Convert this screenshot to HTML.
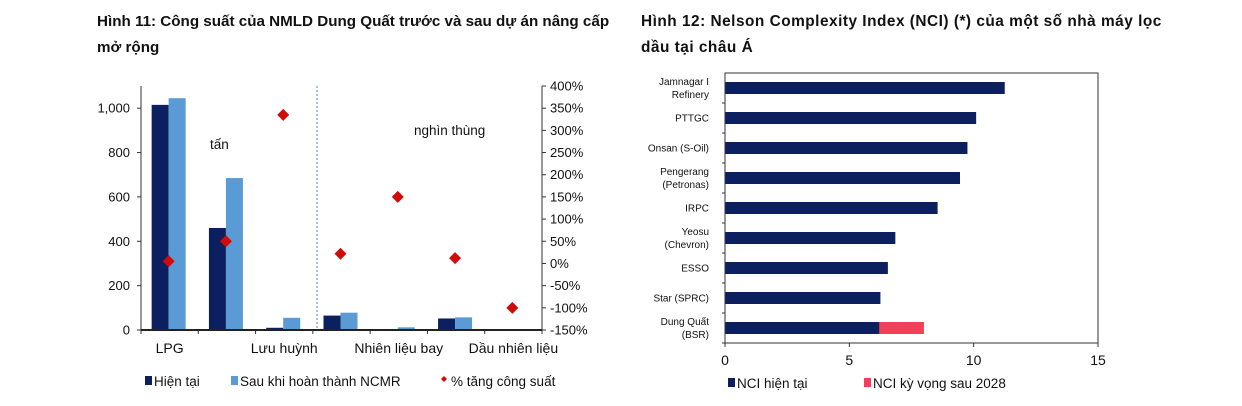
<!DOCTYPE html>
<html><head><meta charset="utf-8"><style>
body{margin:0;width:1242px;height:406px;background:#fff;overflow:hidden;font-family:"Liberation Sans",sans-serif}
.t{position:absolute;font-weight:bold;font-size:15.2px;color:#111;line-height:26px;white-space:nowrap}
svg{position:absolute;left:0;top:0}
</style></head><body>
<div class="t" style="left:97px;top:9px">Hình 11: Công suất của NMLD Dung Quất trước và sau dự án nâng cấp<br>mở rộng</div>
<div class="t" style="left:641px;top:9px;font-size:15.4px;letter-spacing:0.5px">Hình 12: Nelson Complexity Index (NCI) (*) của một số nhà máy lọc<br>dầu tại châu Á</div>
<svg width="1242" height="406" id="svg" font-family="Liberation Sans, sans-serif"></svg>
<script>
const cats=["LPG","","Lưu huỳnh","","Nhiên liệu bay","","Dầu nhiên liệu"];
const cur=[1015,460,10,65,3,52,3];
const after=[1045,685,55,78,12,57,4];
const pct=[5,50,335,22,150,12,-100];
const leftTicks=[0,200,400,600,800,1000];
const leftTickLabels=["0","200","400","600","800","1,000"];
const rightTicks=[-150,-100,-50,0,50,100,150,200,250,300,350,400];
const refs=["Jamnagar I|Refinery","PTTGC","Onsan (S-Oil)","Pengerang|(Petronas)","IRPC","Yeosu|(Chevron)","ESSO","Star (SPRC)","Dung Quất|(BSR)"];
const nci=[11.25,10.1,9.75,9.45,8.55,6.85,6.55,6.25,6.2];
const nci2028=[0,0,0,0,0,0,0,0,8.0];
const xTicks=[0,5,10,15];

const S=document.getElementById('svg');const NS="http://www.w3.org/2000/svg";
function el(t,a,txt){const e=document.createElementNS(NS,t);for(const k in a)e.setAttribute(k,a[k]);if(txt!==undefined)e.textContent=txt;S.appendChild(e);return e;}
const L={x0:141,x1:542,yb:330,yt:86};
const yL=v=>L.yb-(v/1100)*(L.yb-L.yt);
const yR=v=>L.yb-((v+150)/550)*(L.yb-L.yt);
const gw=(L.x1-L.x0)/cats.length;
let e;
e=el('line',{x1:317,y1:L.yt,x2:317,y2:L.yb,stroke:'#4a7fd0','stroke-dasharray':'2,2','stroke-width':1});

cats.forEach((c,i)=>{
 const gx=L.x0+i*gw, cx=gx+gw/2;
 e=el('rect',{x:cx-18,y:yL(cur[i]),width:17,height:L.yb-yL(cur[i]),fill:'#0c1f5e'});
 
 e=el('rect',{x:cx-1,y:yL(after[i]),width:17,height:L.yb-yL(after[i]),fill:'#5b9bd5'});
 
 const py=yR(pct[i]);
 e=el('path',{d:`M${cx-1} ${py-6}L${cx+5} ${py}L${cx-1} ${py+6}L${cx-7} ${py}Z`,fill:'#d10a0a'});
 
 if(c){e=el('text',{x:cx,y:353,'font-size':14,'text-anchor':'middle',fill:'#111'},c);
 }
});
for(let i=0;i<=cats.length;i++){e=el('line',{x1:L.x0+i*gw,y1:L.yb,x2:L.x0+i*gw,y2:L.yb+4,stroke:'#333'});
 }
e=el('line',{x1:L.x0,y1:L.yt,x2:L.x0,y2:L.yb,stroke:'#333'});
e=el('line',{x1:L.x1,y1:L.yt,x2:L.x1,y2:L.yb,stroke:'#333'});
e=el('line',{x1:L.x0,y1:L.yb,x2:L.x1,y2:L.yb,stroke:'#222','stroke-width':2});
leftTicks.forEach((v,i)=>{e=el('text',{x:L.x0-11,y:yL(v)+4.5,'font-size':13,'text-anchor':'end',fill:'#111'},leftTickLabels[i]);
 
 e=el('line',{x1:L.x0-4,y1:yL(v),x2:L.x0,y2:yL(v),stroke:'#333'});});
rightTicks.forEach(v=>{e=el('text',{x:L.x1+8,y:yR(v)+4.5,'font-size':13,fill:'#111'},v+'%');
 
 e=el('line',{x1:L.x1,y1:yR(v),x2:L.x1+4,y2:yR(v),stroke:'#333'});});
e=el('text',{x:210,y:149,'font-size':13.5,fill:'#111'},'tấn');
e=el('text',{x:414,y:135,'font-size':13.5,fill:'#111'},'nghìn thùng');
e=el('rect',{x:145,y:376,width:7,height:9,fill:'#0c1f5e'});
e=el('text',{x:154,y:386,'font-size':13.5,fill:'#111'},'Hiện tại');
e=el('rect',{x:231,y:376,width:7,height:9,fill:'#5b9bd5'});
e=el('text',{x:240,y:386,'font-size':13.5,fill:'#111'},'Sau khi hoàn thành NCMR');
e=el('path',{d:'M444 376L447 379L444 382L441 379Z',fill:'#d10a0a'});
e=el('text',{x:451,y:386,'font-size':13.5,fill:'#111'},'% tăng công suất');
const R={x0:725,x1:1098,yt:73,yb:343};
const xR=v=>R.x0+v/15*(R.x1-R.x0);
const rh=(R.yb-R.yt)/refs.length;
refs.forEach((r,i)=>{
 const cy=R.yt+rh*i+rh/2;
 if(nci2028[i]>0){e=el('rect',{x:xR(0),y:cy-6,width:xR(nci2028[i])-xR(0),height:12,fill:'#f0405a'});
  }
 e=el('rect',{x:xR(0),y:cy-6,width:xR(nci[i])-xR(0),height:12,fill:'#0c1f5e'});
 
 const parts=r.split('|');
 parts.forEach((p,j)=>{e=el('text',{x:709,y:cy+3.5+(j-(parts.length-1)/2)*13,'font-size':10,'text-anchor':'end',fill:'#111'},p);
  });
 e=el('line',{x1:R.x0-3,y1:R.yt+rh*(i+1),x2:R.x0,y2:R.yt+rh*(i+1),stroke:'#333'});
});
e=el('rect',{x:R.x0,y:R.yt,width:R.x1-R.x0,height:R.yb-R.yt,fill:'none',stroke:'#333'});
xTicks.forEach(v=>{e=el('text',{x:xR(v),y:365,'font-size':14,'text-anchor':'middle',fill:'#111'},String(v));
 
 e=el('line',{x1:xR(v),y1:R.yb,x2:xR(v),y2:R.yb+4,stroke:'#333'});});
e=el('rect',{x:728,y:378,width:7,height:9,fill:'#0c1f5e'});
e=el('text',{x:737,y:388,'font-size':13.5,fill:'#111'},'NCI hiện tại');
e=el('rect',{x:864,y:378,width:7,height:9,fill:'#f0405a'});
e=el('text',{x:873,y:388,'font-size':13.5,fill:'#111'},'NCI kỳ vọng sau 2028');
</script>
</body></html>
